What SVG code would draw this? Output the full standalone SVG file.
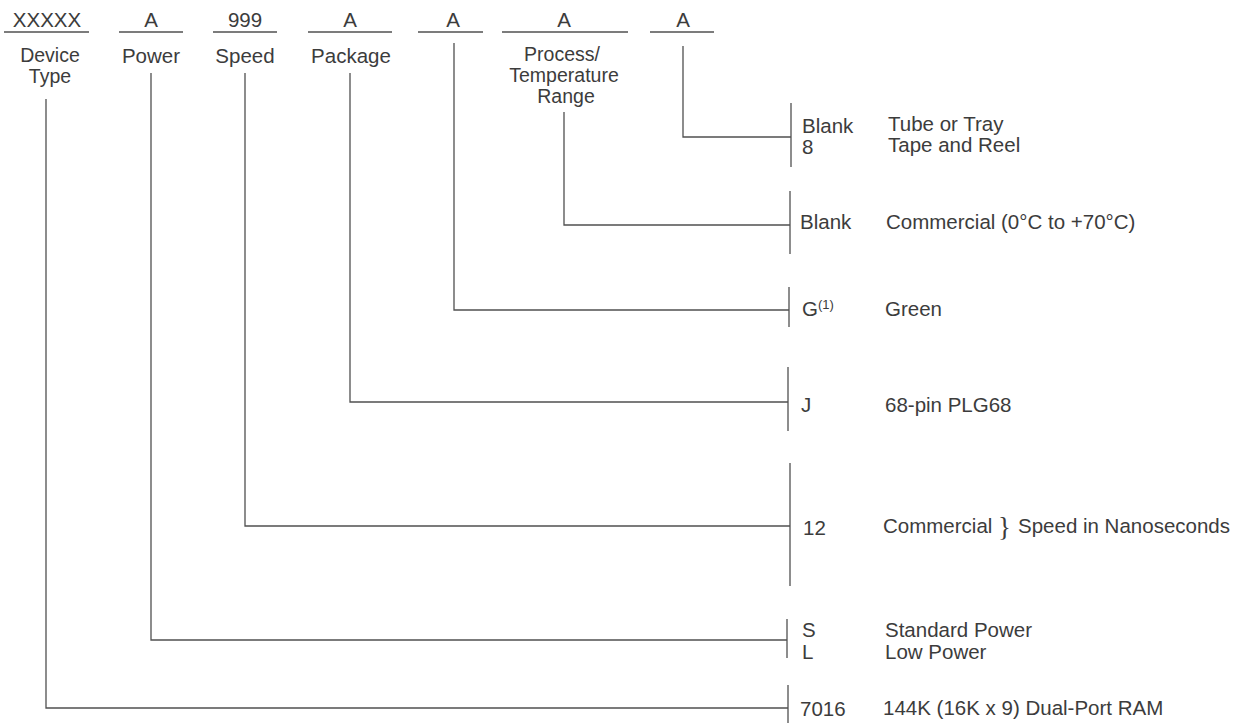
<svg xmlns="http://www.w3.org/2000/svg" width="1234" height="723" viewBox="0 0 1234 723">
<style>
text{font-family:"Liberation Sans",Arial,sans-serif;font-size:20.5px;fill:#3c3c3c}
.c{text-anchor:middle}
.s{font-size:19.5px}
.ln{stroke:#505050;stroke-width:1.3;fill:none}
.sup{font-size:13px}
.brace{font-family:"Liberation Serif","Times New Roman",serif;font-size:27px}
</style>
<rect width="1234" height="723" fill="#fff"/>
<g id="field-device">
<text class="c" x="47" y="27">XXXXX</text>
<line class="ln" x1="4" y1="32" x2="89" y2="32"/>
<text class="c s" x="50" y="62">Device</text>
<text class="c s" x="50" y="83">Type</text>
</g>
<g id="field-power">
<text class="c" x="151" y="27">A</text>
<line class="ln" x1="119" y1="32" x2="183" y2="32"/>
<text class="c" x="151" y="63">Power</text>
</g>
<g id="field-speed">
<text class="c" x="245" y="27">999</text>
<line class="ln" x1="213" y1="32" x2="277" y2="32"/>
<text class="c" x="245" y="63">Speed</text>
</g>
<g id="field-package">
<text class="c" x="350" y="27">A</text>
<line class="ln" x1="308" y1="32" x2="392" y2="32"/>
<text class="c" x="351" y="63">Package</text>
</g>
<g id="field-green">
<text class="c" x="453" y="27">A</text>
<line class="ln" x1="418" y1="32" x2="483" y2="32"/>
</g>
<g id="field-process">
<text class="c" x="564" y="27">A</text>
<line class="ln" x1="502" y1="32" x2="628" y2="32"/>
<text class="c s" x="562" y="61">Process/</text>
<text class="c s" x="564" y="82">Temperature</text>
<text class="c s" x="566" y="103">Range</text>
</g>
<g id="field-packing">
<text class="c" x="683" y="27">A</text>
<line class="ln" x1="650" y1="32" x2="714" y2="32"/>
</g>
<g id="connectors">
<polyline class="ln" points="683,46 683,137 791,137"/>
<polyline class="ln" points="564,112 564,225 790,225"/>
<polyline class="ln" points="454,43 454,310 789,310"/>
<polyline class="ln" points="350,73 350,402 788,402"/>
<polyline class="ln" points="245,73 245,526 790,526"/>
<polyline class="ln" points="151,73 151,640 787,640"/>
<polyline class="ln" points="46,99 46,708 788,708"/>
</g>
<g id="opt-packing">
<line class="ln" x1="791" y1="103" x2="791" y2="167"/>
<text x="802" y="133">Blank</text>
<text x="802" y="154">8</text>
<text x="888" y="131">Tube or Tray</text>
<text x="888" y="152">Tape and Reel</text>
</g>
<g id="opt-process">
<line class="ln" x1="790" y1="191" x2="790" y2="254"/>
<text x="800" y="229">Blank</text>
<text x="886" y="229">Commercial (0°C to +70°C)</text>
</g>
<g id="opt-green">
<line class="ln" x1="789" y1="287" x2="789" y2="327"/>
<text x="802" y="316">G<tspan class="sup" dy="-7">(1)</tspan></text>
<text x="885" y="316">Green</text>
</g>
<g id="opt-package">
<line class="ln" x1="788" y1="367" x2="788" y2="431"/>
<text x="801" y="412">J</text>
<text x="885" y="412">68-pin PLG68</text>
</g>
<g id="opt-speed">
<line class="ln" x1="790" y1="463" x2="790" y2="586"/>
<text x="803" y="535">12</text>
<text x="883" y="533">Commercial</text>
<text class="brace" x="998" y="536">}</text>
<text x="1018" y="533">Speed in Nanoseconds</text>
</g>
<g id="opt-power">
<line class="ln" x1="787" y1="619" x2="787" y2="658"/>
<text x="802" y="637">S</text>
<text x="802" y="659">L</text>
<text x="885" y="637">Standard Power</text>
<text x="885" y="659">Low Power</text>
</g>
<g id="opt-device">
<line class="ln" x1="788" y1="685" x2="788" y2="723"/>
<text x="800" y="716">7016</text>
<text x="883" y="715">144K (16K x 9) Dual-Port RAM</text>
</g>
</svg>
